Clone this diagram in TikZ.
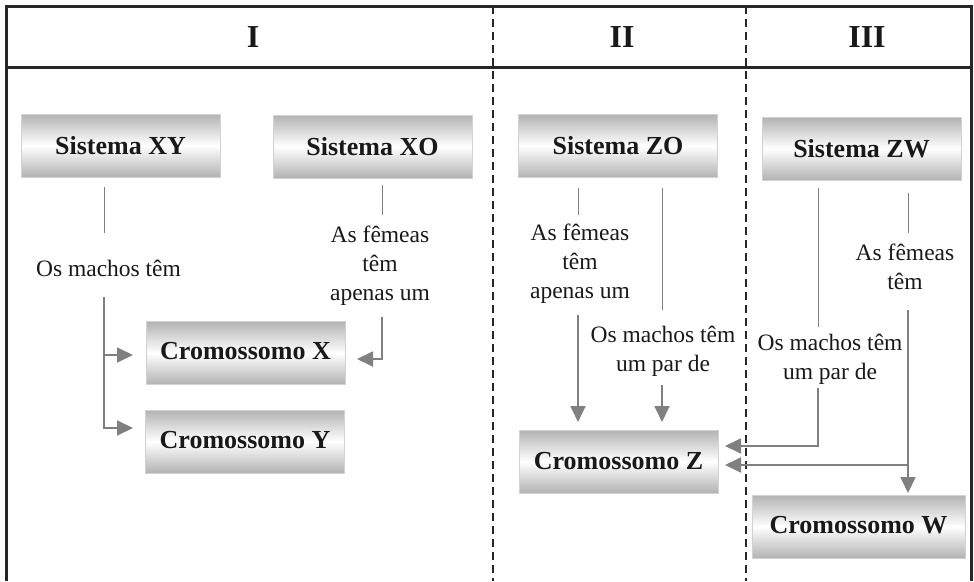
\documentclass[tikz,border=0pt]{standalone}
\usepackage{fontspec}
\setmainfont{Liberation Serif}
\usetikzlibrary{arrows.meta}
\begin{document}
\begin{tikzpicture}[x=1pt,y=-1pt,
 box/.style={draw=gray!35, line width=0.8pt, top color=gray!60, bottom color=gray!60, middle color=white, minimum width=199pt, minimum height=63pt, inner sep=0pt, font=\fontsize{26}{30}\selectfont\bfseries, text=black!90},
 lbl/.style={align=center, font=\fontsize{23.5}{29}\selectfont, inner sep=0pt, text=black!90},
 hdr/.style={font=\fontsize{32}{36}\selectfont\bfseries, text=black!90},
 plain/.style={draw=gray, line width=1pt},
 arr/.style={draw=gray, line width=1.8pt, -{Triangle[length=16pt,width=15pt]}},
 frame/.style={line width=3pt, draw=black!85},
 sep/.style={line width=1.2pt, draw=black!85, dash pattern=on 8pt off 5pt}
]
\useasboundingbox (0,0) rectangle (974,581);
% frame
\draw[frame] (6,581) -- (6,6) -- (971,6) -- (971,581);
\draw[frame] (6,67) -- (971,67);
\draw[sep] (493,6) -- (493,581);
\draw[sep] (746,6) -- (746,581);
% headers
\node[hdr] (h1) at (253,37) {I};
\node[hdr] (h2) at (622,37) {II};
\node[hdr] (h3) at (867,37) {III};
% boxes
\node[box] (xy) at (120.5,145.5) {Sistema XY\hspace{24pt}};
\node[box] (xo) at (372.5,146.5) {Sistema XO};
\node[box] (zo) at (618,146) {Sistema ZO};
\node[box] (zw) at (861.5,148.5) {Sistema ZW};
\node[box] (cx) at (245.5,353) {\raisebox{4pt}{Cromossomo X}};
\node[box] (cy) at (245,441.5) {\raisebox{3pt}{Cromossomo Y}};
\node[box] (cz) at (618.5,461.5) {Cromossomo Z};
\node[box, minimum width=213pt] (cw) at (858.5,526.5) {\raisebox{4pt}{Cromossomo W}};
% labels
\node[lbl] (l1) at (108.5,268) {Os machos têm};
\node[lbl] (l2) at (380,266) {As fêmeas\\têm\\apenas um};
\node[lbl] (l3) at (580,264) {As fêmeas\\têm\\apenas um};
\node[lbl] (l4) at (663,351) {Os machos têm\\um par de};
\node[lbl] (l5) at (830,359) {Os machos têm\\um par de};
\node[lbl] (l6) at (905,267) {As fêmeas\\têm};
% coordinates
\coordinate (a1) at (104,187); \coordinate (a2) at (104,233);
\coordinate (a3) at (104,297); \coordinate (a4) at (104,355);
\coordinate (tx) at (133,355); \coordinate (ty) at (133,428);
\coordinate (b1) at (382,185); \coordinate (b2) at (382,215);
\coordinate (b3) at (382,317); \coordinate (tx2) at (357,359);
\coordinate (c1) at (578,188); \coordinate (c2) at (578,215);
\coordinate (c3) at (578,315); \coordinate (tz1) at (578,422);
\coordinate (d1) at (662,188); \coordinate (d2) at (662,310);
\coordinate (d3) at (662,385); \coordinate (tz2) at (662,422);
\coordinate (e1) at (818,188); \coordinate (e2) at (818,327);
\coordinate (e3) at (818,388); \coordinate (tz3) at (725,446);
\coordinate (f1) at (908,193); \coordinate (f2) at (908,233);
\coordinate (f3) at (908,310); \coordinate (f4) at (908,465);
\coordinate (tw) at (908,493); \coordinate (tz4) at (725,465);
% connectors
\draw[plain] (a1) -- (a2);
\draw[arr] (a3) |- (ty);
\draw[arr] (a4) -- (tx);
\draw[plain] (b1) -- (b2);
\draw[arr] (b3) |- (tx2);
\draw[plain] (c1) -- (c2);
\draw[arr] (c3) -- (tz1);
\draw[plain] (d1) -- (d2);
\draw[arr] (d3) -- (tz2);
\draw[plain] (e1) -- (e2);
\draw[arr] (e3) |- (tz3);
\draw[plain] (f1) -- (f2);
\draw[arr] (f3) -- (tw);
\draw[arr] (f4) -- (tz4);
\end{tikzpicture}
\end{document}
